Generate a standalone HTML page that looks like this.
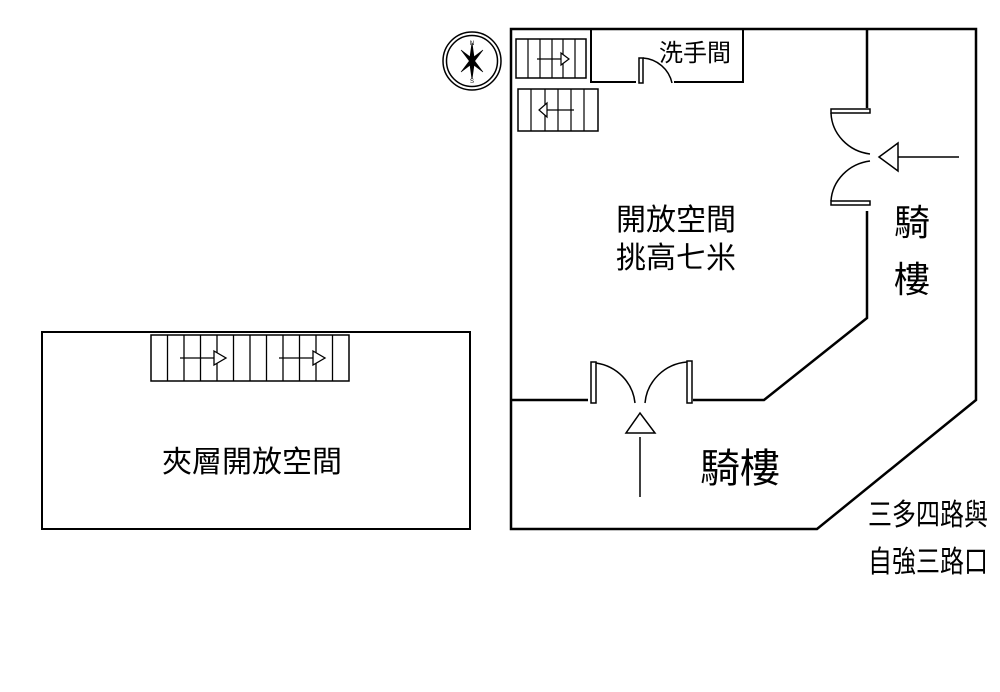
<!DOCTYPE html>
<html><head><meta charset="utf-8"><style>
html,body{margin:0;padding:0;background:#fff;}
svg{display:block}
text{font-family:"Liberation Sans","Noto Sans CJK TC",sans-serif;fill:#000}
</style></head><body>
<svg width="1000" height="692" viewBox="0 0 1000 692" xmlns="http://www.w3.org/2000/svg">
<g fill="none" stroke="#000">
<rect x="42" y="332" width="428" height="197" stroke-width="2"/>
<rect x="151" y="335" width="198" height="46" stroke-width="1.5"/>
<g stroke-width="1.3">
<line x1="167.5" y1="335" x2="167.5" y2="381"/><line x1="184" y1="335" x2="184" y2="381"/><line x1="200.5" y1="335" x2="200.5" y2="381"/><line x1="217" y1="335" x2="217" y2="381"/><line x1="233.5" y1="335" x2="233.5" y2="381"/><line x1="250" y1="335" x2="250" y2="381"/><line x1="266.5" y1="335" x2="266.5" y2="381"/><line x1="283" y1="335" x2="283" y2="381"/><line x1="299.5" y1="335" x2="299.5" y2="381"/><line x1="316" y1="335" x2="316" y2="381"/><line x1="332.5" y1="335" x2="332.5" y2="381"/>
<line x1="180" y1="358" x2="214" y2="358"/><path d="M214 351 L226 358 L214 365 Z" fill="#fff"/>
<line x1="279" y1="358" x2="313" y2="358"/><path d="M313 351 L325 358 L313 365 Z" fill="#fff"/>
</g>
<path d="M511 29 L976 29 L976 400 L817 529 L511 529 Z" stroke-width="2.5"/>
<path d="M867 29 L867 108" stroke-width="2.5"/>
<path d="M867 211 L867 318 L764 400 L693 400" stroke-width="2.5"/>
<path d="M511 400 L588 400" stroke-width="2.5"/>
<rect x="831" y="109" width="39" height="4" stroke-width="1.5"/>
<rect x="831" y="201" width="39" height="4" stroke-width="1.5"/>
<path d="M831 113 A45 43 0 0 0 870 154" stroke-width="1.5"/>
<path d="M831 201 A45 43 0 0 1 870 161" stroke-width="1.5"/>
<path d="M892 157 L959 157" stroke-width="1.5"/>
<path d="M879 157 L898 143 L898 171 Z" fill="#fff" stroke-width="1.5"/>
<rect x="591" y="362" width="5" height="41" stroke-width="1.5"/>
<rect x="687" y="361" width="5" height="42" stroke-width="1.5"/>
<path d="M596 363 A46 45 0 0 1 635 403" stroke-width="1.5"/>
<path d="M687 362 A46 45 0 0 0 645 403" stroke-width="1.5"/>
<path d="M640 437 L640 497" stroke-width="1.5"/>
<path d="M640 413 L626 433 L655 433 Z" fill="#fff" stroke-width="1.5"/>
<path d="M591 29 L591 82 L636 82" stroke-width="2"/>
<path d="M674 82 L743 82 L743 29" stroke-width="2"/>
<rect x="639" y="58" width="4" height="25" stroke-width="1.5"/>
<path d="M643 58 A32 32 0 0 1 672 83" stroke-width="1.5"/>
<rect x="516" y="39" width="70" height="39" stroke-width="1.5"/>
<g stroke-width="1.2">
<line x1="528" y1="39" x2="528" y2="78"/><line x1="540" y1="39" x2="540" y2="78"/><line x1="552" y1="39" x2="552" y2="78"/><line x1="563" y1="39" x2="563" y2="78"/><line x1="575" y1="39" x2="575" y2="78"/>
<line x1="537" y1="59" x2="561" y2="59"/><path d="M561 53 L569 59 L561 65 Z" fill="#fff"/>
</g>
<rect x="518" y="89" width="80" height="42" stroke-width="1.5"/>
<g stroke-width="1.2">
<line x1="531" y1="89" x2="531" y2="131"/><line x1="545" y1="89" x2="545" y2="131"/><line x1="558" y1="89" x2="558" y2="131"/><line x1="571" y1="89" x2="571" y2="131"/><line x1="584" y1="89" x2="584" y2="131"/>
<line x1="547" y1="110" x2="574" y2="110"/><path d="M547 103 L539 110 L547 117 Z" fill="#fff"/>
</g>
<circle cx="472" cy="61" r="29" stroke-width="1.5"/>
<circle cx="472" cy="61" r="25.5" stroke-width="1.5"/>
<path d="M472 43 L474.5 61 L472 79 L469.5 61 Z" fill="#000" stroke-width="0.8"/>
<path d="M461 50 L473.5 59.5 L483 72 L470.5 62.5 Z" fill="#000" stroke-width="0.6"/>
<path d="M483 50 L473.5 62.5 L461 72 L470.5 59.5 Z" fill="#000" stroke-width="0.6"/>
</g>
<text x="472" y="45" font-size="6" text-anchor="middle">N</text>
<text x="472" y="83" font-size="6" text-anchor="middle">S</text>
<text x="659" y="61" font-size="24">洗手間</text>
<text x="616" y="230" font-size="30">開放空間</text>
<text x="616" y="268" font-size="30">挑高七米</text>
<text x="894" y="235" font-size="36">騎</text>
<text x="894" y="292" font-size="36">樓</text>
<text x="700" y="482" font-size="40">騎樓</text>
<text x="162" y="472" font-size="30">夾層開放空間</text>
<text transform="translate(868,525) scale(1,1.25)" font-size="24">三多四路與</text>
<text transform="translate(868,572) scale(1,1.25)" font-size="24">自強三路口</text>
</svg>
</body></html>
